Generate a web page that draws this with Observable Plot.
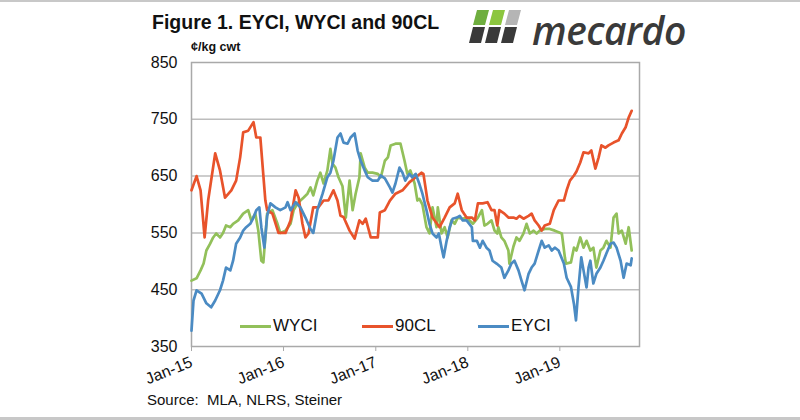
<!DOCTYPE html>
<html>
<head>
<meta charset="utf-8">
<script src="https://cdn.jsdelivr.net/npm/d3@7"></script>
<script src="https://cdn.jsdelivr.net/npm/@observablehq/plot@0.6"></script>
<style>
  html, body { margin: 0; padding: 0; background: #fff; }
  #wrap { position: relative; width: 800px; height: 420px; overflow: hidden; font-family: "Liberation Sans", Arial, sans-serif; color: #111; }
  #wrap .abs { position: absolute; white-space: nowrap; }
  #topline { left: 0; top: 0; width: 800px; height: 2px; background: #c8c8c8; }
  #botline { left: 0; top: 417px; width: 800px; height: 3px; background: #c8c8c8; }
  #title { left: 152px; top: 11px; font-size: 19.5px; font-weight: bold; }
  #unit { left: 191px; top: 40px; font-size: 12.5px; font-weight: bold; }
  #source { left: 147px; top: 391px; font-size: 15px; }
  #logo { left: 468px; top: 8px; }
  #logotext { left: 532px; top: 3px; font-size: 39px; font-style: italic; font-weight: 600; color: #3a3a3a; font-family: "Open Sans", sans-serif; letter-spacing: -0.5px; }
  .leg { position: absolute; top: 316px; font-size: 17px; display: flex; align-items: center; }
  .leg span.sw { display: inline-block; width: 31px; height: 3px; margin-right: 2px; }
</style>
</head>
<body>
<div id="wrap">
  <div id="chart" class="abs" style="left:0;top:0"></div>
  <div id="topline" class="abs"></div>
  <div id="botline" class="abs"></div>
  <div id="title" class="abs">Figure 1. EYCI, WYCI and 90CL</div>
  <div id="unit" class="abs">¢/kg cwt</div>
  <div id="source" class="abs">Source:&nbsp; MLA, NLRS, Steiner</div>
  <svg id="logo" class="abs" width="66" height="36" viewBox="0 0 66 36">
    <polygon points="9,2 21,2 17,17 5,17" fill="#6fae3f"/>
    <polygon points="25,2 37,2 33,17 21,17" fill="#8cc63f"/>
    <polygon points="41,2 53,2 49,17 37,17" fill="#b5b5b5"/>
    <polygon points="5,19 17,19 13,35 1,35" fill="#3a3a3a"/>
    <polygon points="21,19 33,19 29,35 17,35" fill="#3a3a3a"/>
    <polygon points="37,19 49,19 45,35 33,35" fill="#3a3a3a"/>
  </svg>
  <div id="logotext" class="abs">mecardo</div>
  <div class="leg" style="left:240px"><span class="sw" style="background:#92c05a"></span>WYCI</div>
  <div class="leg" style="left:362px"><span class="sw" style="background:#e8532b"></span>90CL</div>
  <div class="leg" style="left:478px"><span class="sw" style="background:#4b8bc3"></span>EYCI</div>
</div>
<script>
// ---- data ----
const seriesNames = ["WYCI", "90CL", "EYCI"];
const seriesColors = ["#92c05a", "#e8532b", "#4b8bc3"];

const cl90Dates = ["2015-01-01","2015-01-21","2015-02-06","2015-02-22","2015-03-08","2015-04-05","2015-04-24","2015-05-14","2015-06-08","2015-06-27","2015-07-13","2015-07-25","2015-08-14","2015-09-04","2015-09-15","2015-10-01","2015-10-21","2015-10-28","2015-11-18","2015-12-12","2016-01-09","2016-01-29","2016-02-18","2016-03-01","2016-03-16","2016-03-28","2016-04-09","2016-04-28","2016-05-18","2016-06-08","2016-06-27","2016-07-17","2016-08-02","2016-08-14","2016-08-26","2016-09-19","2016-10-09","2016-10-28","2016-11-10","2016-11-22","2016-12-12","2017-01-09","2017-01-17","2017-02-06","2017-02-26","2017-03-20","2017-04-17","2017-05-14","2017-06-08","2017-07-01","2017-07-09","2017-07-25","2017-08-14","2017-09-11","2017-10-01","2017-10-21","2017-11-10","2017-11-22","2017-12-08","2017-12-27","2018-01-17","2018-01-29","2018-02-10","2018-03-01","2018-03-20","2018-04-05","2018-04-17","2018-04-28","2018-05-06","2018-05-26","2018-06-11","2018-07-01","2018-07-13","2018-07-25","2018-08-10","2018-08-30","2018-09-11","2018-09-23","2018-10-09","2018-10-21","2018-11-02","2018-11-22","2018-12-08","2018-12-27","2019-01-17","2019-01-28","2019-02-10","2019-02-26","2019-03-08","2019-03-23","2019-04-05","2019-04-25","2019-05-06","2019-05-22","2019-06-04","2019-06-15","2019-07-01","2019-07-13","2019-08-02","2019-08-22","2019-09-04","2019-09-19","2019-10-01","2019-10-13"];
const cl90Values = [625,650,625,542,607,690,660,612,625,642,683,727,730,745,718,718,607,590,584,550,550,572,625,612,566,542,549,595,595,607,607,625,607,580,578,554,540,572,566,575,542,542,586,590,607,619,625,639,648,656,654,607,577,560,577,595,602,619,590,577,577,572,602,602,604,590,590,563,590,584,577,577,575,580,575,580,584,572,563,554,563,566,590,607,607,625,642,651,658,674,692,690,695,663,683,704,700,704,709,713,725,736,753,765];

const wyciDates = ["2015-01-01","2015-01-21","2015-02-06","2015-02-18","2015-03-01","2015-03-16","2015-03-28","2015-04-09","2015-04-24","2015-05-06","2015-05-18","2015-06-04","2015-06-15","2015-07-05","2015-07-25","2015-08-14","2015-08-26","2015-09-11","2015-09-23","2015-10-05","2015-10-13","2015-10-25","2015-10-28","2015-11-18","2015-12-08","2015-12-19","2016-01-09","2016-01-29","2016-02-10","2016-02-26","2016-03-08","2016-03-20","2016-04-05","2016-04-17","2016-04-28","2016-05-14","2016-05-26","2016-06-08","2016-06-23","2016-07-05","2016-07-13","2016-07-25","2016-08-06","2016-08-22","2016-09-04","2016-09-19","2016-10-01","2016-10-13","2016-10-28","2016-11-02","2016-11-18","2016-11-30","2016-12-19","2017-01-09","2017-01-21","2017-02-06","2017-02-18","2017-03-01","2017-03-20","2017-04-09","2017-04-25","2017-05-06","2017-05-18","2017-06-04","2017-06-15","2017-06-23","2017-07-05","2017-07-21","2017-08-02","2017-08-14","2017-08-30","2017-09-04","2017-09-19","2017-10-01","2017-10-13","2017-10-28","2017-11-10","2017-11-22","2017-12-12","2017-12-27","2018-01-21","2018-02-10","2018-02-26","2018-03-08","2018-03-20","2018-04-05","2018-04-17","2018-04-28","2018-05-02","2018-05-14","2018-05-26","2018-06-11","2018-06-15","2018-07-01","2018-07-13","2018-07-25","2018-08-10","2018-08-22","2018-09-04","2018-09-19","2018-10-01","2018-10-13","2018-11-02","2018-11-22","2018-12-12","2019-01-09","2019-01-21","2019-01-25","2019-02-14","2019-02-26","2019-03-08","2019-03-23","2019-04-05","2019-04-17","2019-05-02","2019-05-14","2019-05-26","2019-06-11","2019-06-23","2019-07-05","2019-07-21","2019-08-02","2019-08-14","2019-08-22","2019-09-04","2019-09-19","2019-10-01","2019-10-13"];
const wyciValues = [466,470,484,496,519,531,542,549,542,550,563,560,566,572,584,590,572,584,554,501,498,566,584,590,566,550,554,566,590,602,607,612,619,630,616,642,656,637,660,698,672,665,648,632,577,642,590,619,648,690,665,656,656,654,648,677,683,704,707,707,677,654,660,637,607,610,600,560,549,595,560,595,549,560,542,572,566,577,575,577,566,577,590,563,566,572,554,549,560,542,536,519,496,526,542,536,549,566,549,554,549,554,557,557,554,549,507,496,498,524,519,542,524,536,519,524,489,519,524,536,524,577,584,549,554,531,560,519];

const eyciDates = ["2015-01-01","2015-01-09","2015-01-21","2015-02-10","2015-03-01","2015-03-20","2015-04-05","2015-04-24","2015-05-06","2015-05-18","2015-06-04","2015-06-15","2015-06-27","2015-07-13","2015-07-25","2015-08-06","2015-08-22","2015-09-04","2015-09-15","2015-09-27","2015-10-05","2015-10-17","2015-10-28","2015-11-10","2015-11-30","2015-12-19","2016-01-09","2016-01-17","2016-01-29","2016-02-18","2016-03-08","2016-03-28","2016-04-17","2016-04-28","2016-05-14","2016-06-04","2016-06-23","2016-07-05","2016-07-17","2016-08-02","2016-08-14","2016-08-26","2016-09-11","2016-09-23","2016-10-09","2016-10-21","2016-11-02","2016-11-18","2016-11-30","2016-12-19","2017-01-09","2017-01-21","2017-02-06","2017-02-26","2017-03-08","2017-03-20","2017-04-05","2017-04-17","2017-04-28","2017-05-14","2017-05-26","2017-06-08","2017-06-23","2017-07-05","2017-07-21","2017-08-02","2017-08-14","2017-08-30","2017-09-08","2017-09-19","2017-09-27","2017-10-09","2017-10-21","2017-11-02","2017-11-18","2017-11-30","2017-12-12","2017-12-27","2018-01-17","2018-01-21","2018-02-06","2018-02-18","2018-03-01","2018-03-16","2018-03-28","2018-04-09","2018-04-25","2018-05-14","2018-05-26","2018-06-11","2018-06-23","2018-07-05","2018-07-21","2018-08-02","2018-08-14","2018-08-30","2018-09-11","2018-09-23","2018-10-09","2018-10-21","2018-11-02","2018-11-18","2018-11-30","2018-12-12","2018-12-27","2019-01-17","2019-01-28","2019-02-14","2019-02-26","2019-03-06","2019-03-16","2019-03-27","2019-04-05","2019-04-17","2019-04-25","2019-05-02","2019-05-14","2019-05-26","2019-06-11","2019-06-23","2019-07-05","2019-07-21","2019-08-02","2019-08-14","2019-08-30","2019-09-11","2019-09-23","2019-10-09","2019-10-13"];
const eyciValues = [378,431,449,443,426,419,431,449,466,489,484,501,531,542,554,560,566,577,590,595,560,524,580,602,595,590,595,604,590,604,595,577,557,550,590,619,648,656,677,718,725,709,707,718,725,695,677,660,648,642,642,651,646,630,621,637,665,656,642,654,648,654,636,619,590,566,549,542,549,524,507,536,560,575,577,580,572,572,560,536,536,524,536,524,519,501,496,489,471,484,496,501,484,466,449,478,489,496,519,536,524,528,519,524,519,496,471,455,425,396,454,507,484,454,489,501,461,478,489,501,514,531,533,524,501,471,496,493,505];

const yTicks = [350, 450, 550, 650, 750, 850];
const xTickDates = ["2015-01-01", "2016-01-01", "2017-01-01", "2018-01-01", "2019-01-01"];
const xDomain = ["2015-01-01", "2019-11-13"];

// ---- build table ----
const rows = [];
function add(name, dates, values) {
  dates.forEach((d, i) => rows.push({series: name, date: new Date(d), value: values[i]}));
}
add("WYCI", wyciDates, wyciValues);
add("90CL", cl90Dates, cl90Values);
add("EYCI", eyciDates, eyciValues);

const chart = Plot.plot({
  width: 800,
  height: 420,
  marginTop: 62,
  marginBottom: 74,
  marginLeft: 191,
  marginRight: 161,
  style: {fontFamily: "'Liberation Sans', Arial, sans-serif", fontSize: "16px", color: "#111", background: "transparent"},
  x: {type: "utc", domain: xDomain.map(d => new Date(d))},
  y: {domain: [350, 850]},
  color: {domain: seriesNames, range: seriesColors},
  marks: [
    Plot.gridY([450, 550, 650, 750], {stroke: "#bdbdbd", strokeOpacity: 1, strokeWidth: 1.5}),
    Plot.frame({stroke: "#a9a9a9", strokeWidth: 1.5}),
    Plot.lineY(rows, {x: "date", y: "value", z: "series", stroke: "series", strokeWidth: 2.7, curve: "linear"}),
    Plot.axisY(yTicks, {tickSize: 0, tickPadding: 14, fontSize: 16, label: null}),
    Plot.axisX(xTickDates.map(d => new Date(d)), {tickSize: 5, stroke: "#a9a9a9", tickFormat: d3.utcFormat("%b-%y"), tickRotate: -22, fontSize: 16, tickPadding: 10, label: null})
  ]
});
document.getElementById("chart").appendChild(chart);
</script>
</body>
</html>
